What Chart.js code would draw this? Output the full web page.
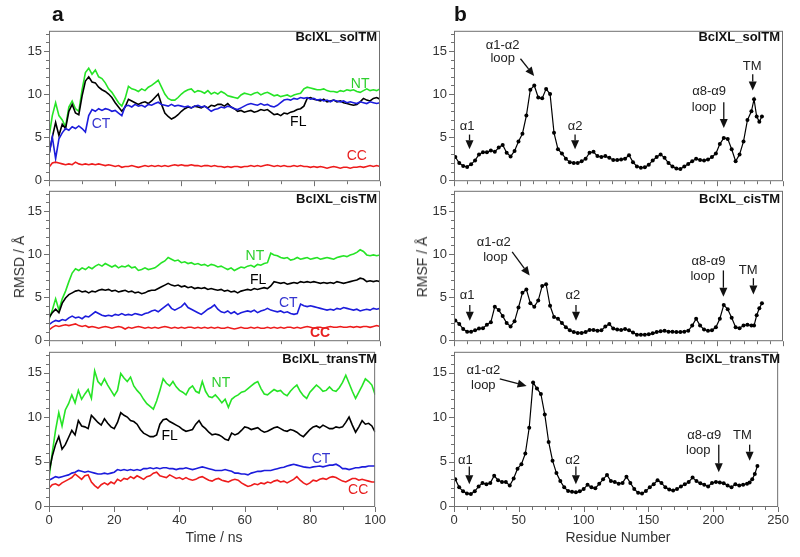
<!DOCTYPE html>
<html>
<head>
<meta charset="utf-8">
<script src="https://cdn.jsdelivr.net/npm/chart.js@4.4.1/dist/chart.umd.min.js"></script>
<style>
  body { margin: 0; background: #fff; }
  #fig { position: relative; width: 800px; height: 557px; overflow: hidden; font-family: "Liberation Sans", Arial, sans-serif; color: #222; }
  #fig canvas { position: absolute; }
  .txt { position: absolute; white-space: nowrap; line-height: 1; }
  .name { font-weight: bold; font-size: 13px; color: #111; }
  .tag { font-weight: bold; font-size: 21px; color: #111; }
  .axt { font-size: 14px; color: #333; }
  .rot { transform: translate(-50%, -50%) rotate(-90deg); }
</style>
</head>
<body>
<div id="fig">
  <canvas id="solL" width="392" height="180" style="left:0;top:16px"></canvas>
  <canvas id="cisL" width="392" height="180" style="left:0;top:176px"></canvas>
  <canvas id="transL" width="392" height="220" style="left:0;top:337px"></canvas>
  <canvas id="solR" width="390" height="180" style="left:405px;top:16px"></canvas>
  <canvas id="cisR" width="390" height="180" style="left:405px;top:176px"></canvas>
  <canvas id="transR" width="390" height="220" style="left:405px;top:337px"></canvas>

  <div class="txt tag" style="left:52px;top:3px">a</div>
  <div class="txt tag" style="left:454px;top:3px">b</div>
  <div class="txt name" style="right:423px;top:30px">BclXL_solTM</div>
  <div class="txt name" style="right:423px;top:192px">BclXL_cisTM</div>
  <div class="txt name" style="right:423px;top:352px">BclXL_transTM</div>
  <div class="txt name" style="right:20px;top:30px">BclXL_solTM</div>
  <div class="txt name" style="right:20px;top:192px">BclXL_cisTM</div>
  <div class="txt name" style="right:20px;top:352px">BclXL_transTM</div>
  <div class="txt axt" style="left:114px;width:200px;text-align:center;top:530px">Time / ns</div>
  <div class="txt axt" style="left:518px;width:200px;text-align:center;top:530px">Residue Number</div>
  <div class="txt axt rot" style="left:19px;top:267px">RMSD / Å</div>
  <div class="txt axt rot" style="left:422px;top:267px">RMSF / Å</div>
</div>
<script>
const times = [0,1,2,3,4,5,6,7,8,9,10,11,12,13,14,15,16,17,18,19,20,21,22,23,24,25,26,27,28,29,30,31,32,33,34,35,36,37,38,39,40,41,42,43,44,45,46,47,48,49,50,51,52,53,54,55,56,57,58,59,60,61,62,63,64,65,66,67,68,69,70,71,72,73,74,75,76,77,78,79,80,81,82,83,84,85,86,87,88,89,90,91,92,93,94,95,96,97,98,99,100];

// RMSD (A) per ns
const solNT = [5.0,7.5,9.0,7.5,7.0,6.2,8.5,9.2,8.3,8.0, 10.5,12.5,13.0,12.3,12.8,12.0,11.8,11.3,10.6,10.2, 9.6,9.0,8.6,9.5,10.9,10.6,10.5,10.3,10.6,10.4, 10.8,11.0,11.3,11.6,10.8,10.0,9.5,9.3,9.3,9.6, 10.0,10.3,10.5,10.6,10.2,10.4,10.3,10.1,10.4,10.0, 10.2,10.0,10.3,10.1,9.8,9.7,9.6,9.5,9.9,10.1, 10.0,9.9,10.1,10.2,9.9,10.1,10.2,10.0,9.8,9.9, 9.7,9.8,9.9,9.7,9.9,10.0,10.1,10.6,10.8,10.7, 10.6,10.5,10.5,10.6,10.4,10.3,10.3,10.2,10.4,10.3, 10.5,10.4,10.5,10.3,10.2,10.4,10.6,10.4,10.5,10.4, 10.6];
const solFL = [3.0,5.0,6.7,5.2,6.5,6.0,8.0,8.8,7.8,7.6, 9.8,11.5,12.0,11.4,11.3,10.8,10.5,10.3,10.0,9.6, 9.0,8.5,8.0,8.5,9.4,9.2,9.0,8.8,9.0,9.1, 8.9,9.2,9.6,10.0,8.8,7.8,7.4,7.1,7.3,7.6, 8.0,8.3,8.5,8.4,8.6,8.5,8.4,8.6,8.4,8.7, 8.6,8.8,8.8,8.6,8.9,8.5,8.3,8.0,8.1,7.9, 8.0,8.1,7.9,8.0,8.2,8.1,8.2,7.9,7.6,7.7, 7.5,7.8,7.7,7.9,8.0,8.2,8.3,8.6,9.5,9.6, 9.4,9.3,9.2,9.4,9.1,9.2,9.3,9.1,9.2,9.0, 8.9,8.8,8.7,8.8,9.1,9.5,9.3,9.2,9.5,9.6, 9.4];
const solCT = [3.0,5.0,2.5,4.8,5.5,6.0,5.8,6.2,6.0,6.3, 6.0,5.6,7.5,8.2,8.0,8.3,8.1,8.3,8.2,8.0, 8.1,7.8,7.5,8.6,8.7,8.5,8.8,8.6,8.7,8.5, 8.8,8.7,8.9,9.05,8.8,8.7,8.6,8.8,8.6,8.7, 8.6,8.5,8.6,8.4,8.6,8.7,8.5,8.6,8.3,8.0, 8.2,8.3,8.5,8.4,8.6,8.5,8.3,8.2,8.4,8.6, 8.8,8.9,8.8,8.7,8.9,8.7,8.8,8.6,8.5,8.7, 9.0,9.3,9.4,9.3,9.5,9.4,9.6,9.5,9.6,9.4, 9.5,9.3,9.4,9.2,9.3,9.1,9.3,9.2,9.1,9.2, 9.0,9.1,9.0,8.9,9.1,9.0,8.9,9.1,9.0,8.9, 9.0];
const solCC = [1.5,2.0,2.1,2.0,1.9,1.8,1.9,1.8,2.1,1.9, 1.8,1.9,1.8,1.9,1.8,1.9,1.8,1.7,1.8,1.7, 1.6,1.7,1.5,1.6,1.6,1.7,1.6,1.5,1.6,1.7, 1.6,1.7,1.6,1.7,1.6,1.7,1.6,1.7,1.8,1.7, 1.8,1.7,1.7,1.8,1.7,1.7,1.6,1.7,1.7,1.6, 1.7,1.6,1.6,1.5,1.6,1.5,1.6,1.6,1.5,1.6, 1.6,1.7,1.6,1.7,1.6,1.7,1.8,1.7,1.6,1.7, 1.6,1.7,1.6,1.6,1.7,1.6,1.7,1.6,1.6,1.5, 1.6,1.5,1.6,1.5,1.4,1.5,1.6,1.5,1.4,1.5, 1.5,1.4,1.5,1.5,1.6,1.5,1.6,1.7,1.6,1.7, 1.6];

const cisNT = [2.4,3.5,4.8,3.5,4.8,5.7,6.8,7.8,8.3,8.1, 8.4,8.2,8.5,8.3,8.6,8.8,8.6,8.9,8.7,8.5, 8.7,8.4,8.6,8.5,8.7,8.4,8.5,8.1,8.2,8.4, 8.2,8.3,8.4,8.7,9.0,9.2,9.6,9.4,9.2,9.3, 9.0,9.1,8.9,9.0,8.8,8.9,8.7,8.8,8.6,8.8, 8.7,8.5,8.6,8.4,8.2,8.4,8.1,8.3,8.5,8.4, 8.6,8.7,8.5,8.8,8.7,8.9,9.0,10.1,9.9,9.8, 9.6,9.5,9.6,9.3,9.4,9.6,9.4,9.5,9.6,9.4, 9.5,9.6,9.4,9.5,9.6,9.5,9.4,9.6,9.7,9.8, 9.7,9.9,10.0,10.2,10.5,10.3,9.9,9.8,9.9,9.8, 9.9];
const cisFL = [2.6,3.2,3.6,3.2,4.3,4.9,5.3,5.5,5.7,5.8, 5.6,5.7,5.5,5.7,5.6,5.8,5.9,5.8,5.9,5.7, 5.8,5.6,5.7,5.8,5.6,5.7,5.5,5.6,5.4,5.5, 5.7,5.8,5.8,6.0,6.2,6.4,6.6,6.4,6.3,6.4, 6.2,6.3,6.1,6.2,6.0,6.1,6.0,6.1,5.9,6.0, 5.9,5.8,5.9,5.7,5.8,5.6,5.7,5.5,5.7,5.8, 5.9,5.8,6.0,5.9,6.0,6.1,6.0,6.3,6.8,6.7, 6.6,6.7,6.5,6.6,6.7,6.6,6.8,6.7,6.8,6.7, 6.8,6.7,6.6,6.7,6.6,6.7,6.6,6.8,6.7,6.6, 6.7,6.8,6.9,7.0,7.2,7.1,6.8,6.9,6.8,6.9, 6.8];
const cisCT = [1.8,2.1,2.3,2.2,2.4,2.3,2.6,2.8,2.6,2.7, 2.5,2.8,2.7,3.0,3.3,3.1,2.9,2.8,2.9,2.8, 3.0,2.9,3.1,2.9,3.0,2.9,3.1,3.0,2.9,3.1, 3.2,3.4,3.5,3.3,3.6,3.9,4.2,3.7,3.5,3.7, 3.9,4.3,3.8,3.6,3.4,3.2,3.0,3.3,3.6,3.8, 4.1,3.6,3.3,3.2,3.4,3.1,3.3,3.0,3.2,3.3, 3.4,3.3,3.5,3.2,3.4,3.5,3.7,3.5,3.4,3.3, 3.4,3.2,3.3,3.1,3.0,3.1,4.2,4.0,3.9,4.0, 3.9,3.8,3.7,3.6,3.5,3.6,3.5,3.7,3.6,3.8, 3.7,3.6,3.5,3.6,3.4,3.5,3.6,3.5,3.7,3.6, 3.7];
const cisCC = [1.2,1.5,1.7,1.6,1.7,1.8,1.7,1.8,1.9,1.7, 1.6,1.7,1.5,1.6,1.5,1.4,1.5,1.6,1.5,1.4, 1.5,1.6,1.5,1.3,1.5,1.4,1.5,1.6,1.5,1.4, 1.5,1.4,1.5,1.4,1.5,1.6,1.5,1.4,1.5,1.4, 1.5,1.4,1.5,1.5,1.4,1.5,1.4,1.5,1.4,1.5, 1.4,1.5,1.4,1.4,1.5,1.4,1.3,1.4,1.5,1.4, 1.4,1.5,1.4,1.5,1.4,1.4,1.5,1.4,1.5,1.4, 1.5,1.4,1.5,1.5,1.4,1.5,1.4,1.5,1.6,1.5, 1.4,1.5,1.5,1.4,1.5,1.6,1.5,1.5,1.6,1.5, 1.5,1.6,1.5,1.6,1.5,1.6,1.6,1.5,1.6,1.7, 1.6];

const transNT = [3.1,6.0,8.5,10.5,9.0,10.8,11.5,12.5,11.6,13.0, 12.0,12.6,13.1,12.1,15.2,14.0,13.6,14.3,13.6,13.0, 12.4,13.0,14.9,14.4,14.0,14.5,13.5,13.0,12.6,12.0, 11.5,11.2,10.9,11.8,13.0,14.3,13.8,13.5,14.0,13.4, 13.0,12.8,12.5,13.2,13.5,12.9,12.7,14.0,12.9,12.3, 12.2,12.5,12.1,11.6,12.0,11.1,12.0,12.3,12.5,12.8, 12.9,13.2,13.5,13.8,14.0,13.2,12.6,12.5,12.8,13.1, 12.9,13.0,12.6,12.4,12.9,13.3,13.6,12.9,12.4,12.1, 12.8,13.2,13.6,13.3,12.9,13.0,13.4,13.0,12.9,13.3, 13.9,14.7,13.8,12.9,12.1,12.8,13.5,14.3,14.0,13.6, 12.5];
const transFL = [3.8,5.6,6.9,7.8,6.4,6.9,7.7,8.5,8.0,9.6, 9.0,8.9,8.7,10.2,9.8,9.4,9.1,9.8,9.3,8.9, 8.7,9.4,10.5,10.2,10.0,9.6,9.5,9.2,8.6,8.2, 8.0,7.8,7.8,8.0,9.2,9.7,9.8,9.5,9.3,9.1, 8.9,8.6,8.4,8.5,8.6,9.2,9.6,9.0,8.7,8.3, 8.0,8.1,8.0,7.8,7.5,7.4,8.2,8.0,8.15,8.5, 8.9,8.8,8.6,8.7,8.8,8.5,8.3,8.4,8.6,8.8, 8.9,8.7,8.5,8.4,8.6,8.5,8.3,8.0,7.8,8.2, 8.6,8.9,9.0,8.8,9.1,8.9,8.7,8.7,8.9,8.8, 8.9,9.4,10.0,9.1,8.3,8.9,9.6,9.2,9.3,9.0, 8.3];
const transCT = [2.9,3.1,3.3,3.2,3.3,3.4,3.5,3.7,3.8,4.0, 3.9,3.8,3.9,3.8,3.7,3.6,3.6,3.7,3.6,3.7, 3.8,4.1,4.0,4.1,4.0,4.1,4.0,4.1,4.0,4.2, 4.2,4.3,4.2,4.3,4.2,4.3,4.3,4.2,4.2,4.1, 4.2,4.2,4.3,4.2,4.1,4.2,4.3,4.4,4.3,4.2, 4.1,4.0,4.0,4.0,4.1,4.0,3.9,3.7,3.7,3.6, 3.6,3.5,3.7,3.8,3.9,3.9,4.0,4.0,4.0,4.1, 4.2,4.3,4.35,4.5,4.6,4.7,4.6,4.5,4.4,4.35, 4.3,4.4,4.45,4.5,4.4,4.5,4.6,4.6,4.7,4.5, 4.2,4.2,4.1,4.2,4.3,4.3,4.4,4.4,4.5,4.5, 4.5];
const transCC = [2.0,2.4,2.5,2.3,2.6,2.8,3.0,3.2,3.6,3.3, 3.0,3.4,3.5,2.7,2.3,2.0,2.4,2.6,2.4,2.7, 2.5,3.0,2.8,3.1,3.0,3.3,3.1,3.4,3.2,3.0, 3.3,3.4,3.7,3.8,3.4,3.3,3.2,3.5,3.3,3.1, 3.2,3.0,3.2,3.0,2.9,3.0,3.2,3.3,3.1,2.9, 2.8,3.0,3.1,2.9,2.8,2.7,2.9,3.0,2.9,2.6, 2.4,2.2,2.3,2.5,2.4,2.6,2.5,2.7,2.6,2.8, 2.9,2.7,2.8,2.6,2.8,3.0,3.3,2.9,2.6,2.4, 2.6,2.9,2.8,3.0,3.1,3.0,3.2,3.3,3.2,3.0, 2.8,2.7,2.9,3.1,3.1,2.9,3.0,2.9,2.8,2.7, 2.7];

// RMSF (A) per residue
const residues = [1,4,7,10,13,16,19,22,25,28,31,34,37,40,43,46,49,52,55,58,61,64,67,70,73,76,79,82,85,88,91,94,97,100,103,106,109,112,115,118,121,124,127,130,133,136,139,142,145,148,151,154,157,160,163,166,169,172,175,178,181,184,187,190,193,196,199,202,205,208,211,214,217,220,223,226,228,230,232,234];
const solRMSF = [2.7,2.0,1.65,1.55,1.85,2.3,3.0,3.25,3.25,3.45, 3.3,3.8,4.1,3.2,2.75,3.4,4.5,5.4,7.5,10.5, 11.0,9.6,9.5,10.6,10.0,5.5,3.6,3.1,2.5,2.1, 2.0,2.0,2.2,2.5,3.2,3.3,2.8,2.7,2.8,2.6, 2.35,2.35,2.4,2.5,2.9,2.1,1.6,1.45,1.5,1.8, 2.3,2.7,3.0,2.6,2.0,1.6,1.35,1.3,1.6,1.9, 2.2,2.5,2.35,2.3,2.4,2.7,3.1,4.2,4.9,4.8, 3.6,2.2,3.0,4.5,7.0,8.0, 9.4,7.4,6.8,7.4];
const cisRMSF = [2.3,1.9,1.3,1.0,1.0,1.15,1.35,1.4,1.8,2.1, 3.9,3.5,2.8,2.0,1.6,2.2,3.8,5.5,5.9,4.3, 3.9,4.6,6.3,6.5,4.0,2.7,2.5,2.0,1.5,1.15, 0.95,0.85,0.85,0.95,1.2,1.2,1.1,1.15,1.6,1.9, 1.35,1.25,1.2,1.3,1.15,0.9,0.65,0.65,0.65,0.7, 0.8,0.95,1.05,1.1,1.0,1.0,0.95,0.95,1.0,1.1, 1.7,2.5,1.7,1.25,1.1,1.15,1.5,2.5,4.1,3.6, 2.6,1.5,1.4,1.7,1.8,1.7, 1.7,2.9,3.7,4.3];
const transRMSF = [3.0,2.1,1.65,1.4,1.35,1.65,2.2,2.6,2.45,2.6, 3.4,2.9,2.7,2.7,2.3,3.1,4.2,4.7,5.9,8.8, 13.9,13.2,12.6,10.3,7.2,5.1,3.7,2.8,2.1,1.7, 1.6,1.55,1.65,1.9,2.4,2.1,2.0,2.5,3.0,3.5, 2.8,2.7,2.5,2.6,3.3,2.6,1.9,1.5,1.4,1.7, 2.1,2.45,2.9,2.6,2.1,1.85,1.75,1.9,2.2,2.45, 2.7,3.2,2.8,2.55,2.4,2.2,2.6,2.7,2.65,2.55, 2.3,2.1,2.45,2.3,2.4,2.5, 2.65,3.0,3.6,4.5];

const seriesNames = ['NT', 'FL', 'CT', 'CC'];
const seriesColors = ['#26e426', '#000000', '#1c1cdc', '#ee1c1c'];
const timeTicks = [0, 20, 40, 60, 80, 100];
const residueTicks = [0, 50, 100, 150, 200, 250];
const rmsTicks = [0, 5, 10, 15];

// text notes: [text, x, y, colour, bold]
const solNotes = [['NT', 94, 11.2, '#2fcf2f'], ['FL', 75.3, 6.7, '#000'], ['CT', 15.7, 6.5, '#3535d0'], ['CC', 93, 2.8, '#e82020']];
const cisNotes = [['NT', 62.2, 9.8, '#2fcf2f'], ['FL', 63.2, 7.0, '#000'], ['CT', 72.3, 4.3, '#3535d0'], ['CC', 81.9, 0.8, '#e82020', true]];
const transNotes = [['NT', 52.7, 13.8, '#2fcf2f'], ['FL', 37, 7.9, '#000'], ['CT', 83.4, 5.3, '#3535d0'], ['CC', 94.8, 1.8, '#e82020']];

const solRNotes = [['α1', 10, 6.2], ['α2', 92, 6.2], ['α1-α2', 37, 15.7], ['loop', 37, 14.1], ['α8-α9', 193.8, 10.25], ['loop', 190, 8.5], ['TM', 226.5, 13.2]];
const cisRNotes = [['α1', 10, 5.2], ['α2', 90.4, 5.2], ['α1-α2', 30.2, 11.3], ['loop', 31.5, 9.6], ['α8-α9', 193.4, 9.2], ['loop', 189, 7.45], ['TM', 223.6, 8.1]];
const transRNotes = [['α1', 8.7, 5.1], ['α2', 91.4, 5.1], ['α1-α2', 22.6, 15.25], ['loop', 22.6, 13.6], ['α8-α9', 193, 7.9], ['loop', 188.4, 6.25], ['TM', 222.5, 7.9]];

// arrows: [x1, y1, x2, y2]
const solArrows = [[11.8, 5.3, 11.8, 3.6], [92, 5.3, 92, 3.6], [50.5, 14.1, 60.9, 12.1], [205, 9.05, 205, 6.05], [227, 12.3, 227, 10.4]];
const cisArrows = [[12, 4.1, 12, 2.25], [92.7, 4.1, 92.7, 2.25], [44.2, 10.25, 57.5, 7.5], [204.7, 8.1, 204.7, 5.05], [227.5, 7.2, 227.5, 5.3]];
const transArrows = [[11.8, 4.45, 11.8, 2.45], [94, 4.45, 94, 2.45], [35.3, 14.3, 56, 13.5], [204.2, 6.9, 204.2, 3.8], [228, 6.9, 228, 5.1]];

Chart.defaults.font.family = '"Liberation Sans", Arial, sans-serif';

const FONT = '"Liberation Sans", Arial, sans-serif';

function arrow(ctx, x1, y1, x2, y2) {
  const ang = Math.atan2(y2 - y1, x2 - x1), h = 9, w = 4;
  const bx = x2 - h * Math.cos(ang), by = y2 - h * Math.sin(ang);
  ctx.beginPath();
  ctx.moveTo(x1, y1);
  ctx.lineTo(bx, by);
  ctx.stroke();
  ctx.beginPath();
  ctx.moveTo(x2, y2);
  ctx.lineTo(bx + w * Math.sin(ang), by - w * Math.cos(ang));
  ctx.lineTo(bx - w * Math.sin(ang), by + w * Math.cos(ang));
  ctx.closePath();
  ctx.fill();
}

const frameTicks = {
  id: 'frameTicks',
  afterDraw(chart, args, o) {
    const {ctx, chartArea: a} = chart;
    const x = chart.scales.x, y = chart.scales.y;
    ctx.save();
    ctx.strokeStyle = '#707070';
    ctx.lineWidth = 1;
    ctx.strokeRect(a.left + 0.5, a.top + 0.5, a.width - 1, a.height - 1);
    ctx.beginPath();
    for (let v = 0; v <= x.max; v += o.xStep) {
      const px = Math.round(x.getPixelForValue(v)) + 0.5;
      const len = v % o.xMajor === 0 ? 5 : 3;
      ctx.moveTo(px, a.bottom);
      ctx.lineTo(px, a.bottom + len);
    }
    for (let v = 0; v <= y.max; v += 1) {
      const py = Math.round(y.getPixelForValue(v)) + 0.5;
      const len = v % 5 === 0 ? 5 : 3;
      ctx.moveTo(a.left, py);
      ctx.lineTo(a.left - len, py);
    }
    ctx.stroke();

    ctx.textAlign = 'center';
    ctx.textBaseline = 'middle';
    (o.notes || []).forEach(n => {
      ctx.font = (n[4] ? 'bold ' : '') + o.noteSize + 'px ' + FONT;
      ctx.fillStyle = n[3] || '#222';
      ctx.fillText(n[0], x.getPixelForValue(n[1]), y.getPixelForValue(n[2]));
    });
    ctx.strokeStyle = '#111';
    ctx.fillStyle = '#111';
    ctx.lineWidth = 1.3;
    (o.arrows || []).forEach(r => {
      arrow(ctx, x.getPixelForValue(r[0]), y.getPixelForValue(r[1]), x.getPixelForValue(r[2]), y.getPixelForValue(r[3]));
    });
    ctx.restore();
  }
};

function makePanel(id, datasets, xMax, xTicks, xStep, xMajor, bottom, notes, arrows, noteSize) {
  return new Chart(document.getElementById(id), {
    type: 'line',
    data: {datasets: datasets},
    plugins: [frameTicks],
    options: {
      responsive: false,
      animation: false,
      events: [],
      layout: {padding: {top: 10, bottom: bottom ? 0 : 10, left: 0, right: 12}},
      plugins: {
        legend: {display: false},
        tooltip: {enabled: false},
        frameTicks: {xStep: xStep, xMajor: xMajor, notes: notes, arrows: arrows, noteSize: noteSize}
      },
      scales: {
        x: {
          type: 'linear', min: 0, max: xMax,
          grid: {display: false, drawTicks: false},
          border: {display: false},
          afterBuildTicks: s => { s.ticks = xTicks.map(v => ({value: v})); },
          afterFit: s => { s.height = bottom ? 50 : 0; },
          ticks: {display: bottom, color: '#333', font: {size: 13}, padding: 6, maxRotation: 0, autoSkip: false}
        },
        y: {
          type: 'linear', min: -0.11, max: 17.34,
          grid: {display: false, drawTicks: false},
          border: {display: false},
          afterBuildTicks: s => { s.ticks = rmsTicks.map(v => ({value: v})); },
          afterFit: s => { s.width = 49; },
          ticks: {color: '#333', font: {size: 13}, padding: 7}
        }
      }
    }
  });
}

function rmsdSets(lists) {
  return lists.map((vals, i) => ({
    label: seriesNames[i],
    data: times.map((t, k) => ({x: t, y: vals[k]})),
    borderColor: seriesColors[i],
    borderWidth: 1.6,
    pointRadius: 0,
    tension: 0,
    order: 4 - i
  }));
}

function rmsfSet(vals) {
  return [{
    label: 'RMSF',
    data: residues.map((r, k) => ({x: r, y: vals[k]})),
    borderColor: '#000',
    borderWidth: 1.2,
    pointRadius: 2,
    pointBorderWidth: 0,
    pointBackgroundColor: '#000',
    tension: 0
  }];
}

makePanel('solL', rmsdSets([solNT, solFL, solCT, solCC]), 100, timeTicks, 10, 20, false, solNotes, [], 14);
makePanel('cisL', rmsdSets([cisNT, cisFL, cisCT, cisCC]), 100, timeTicks, 10, 20, false, cisNotes, [], 14);
makePanel('transL', rmsdSets([transNT, transFL, transCT, transCC]), 100, timeTicks, 10, 20, true, transNotes, [], 14);
makePanel('solR', rmsfSet(solRMSF), 250, residueTicks, 10, 50, false, solRNotes, solArrows, 13);
makePanel('cisR', rmsfSet(cisRMSF), 250, residueTicks, 10, 50, false, cisRNotes, cisArrows, 13);
makePanel('transR', rmsfSet(transRMSF), 250, residueTicks, 10, 50, true, transRNotes, transArrows, 13);
</script>
</body>
</html>
